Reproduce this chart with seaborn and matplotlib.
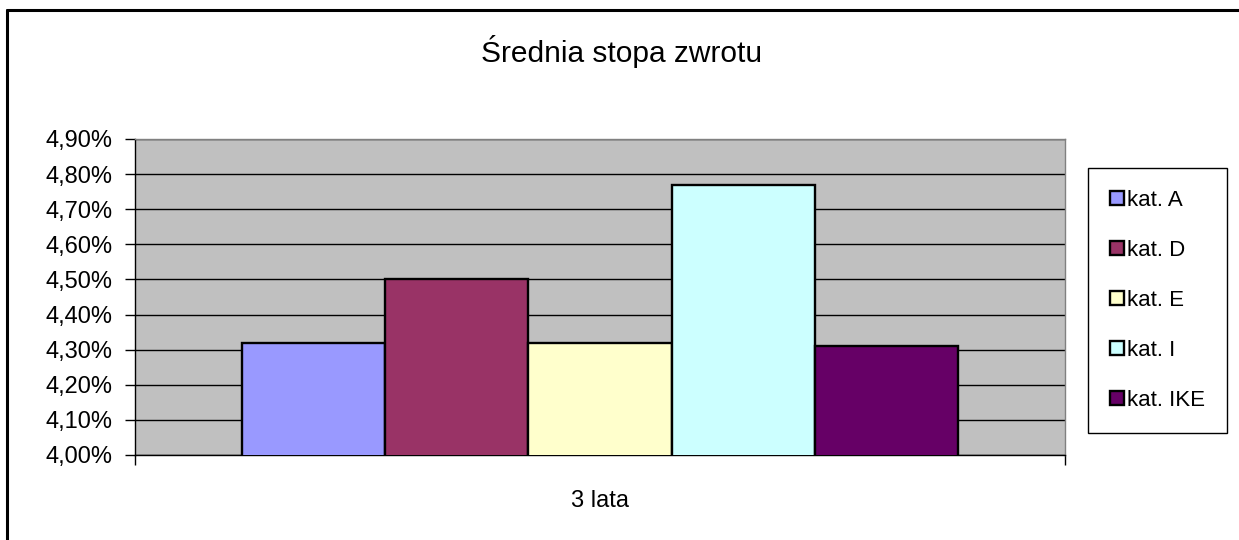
import pandas as pd
import numpy as np
import matplotlib
matplotlib.use("Agg")
import matplotlib.pyplot as plt
import matplotlib.ticker as mticker
from matplotlib.lines import Line2D
import seaborn as sns

# Chart data
period = ["3 lata"]
categories = ["kat. A", "kat. D", "kat. E", "kat. I", "kat. IKE"]
returns = [4.32, 4.50, 4.32, 4.77, 4.31]  # in percent
colors = ["#9999FF", "#993366", "#FFFFCC", "#CCFFFF", "#660066"]

df = pd.DataFrame({
    "okres": period * len(categories),
    "kategoria": categories,
    "stopa": returns,
})

sns.set_style("white")
plt.rcParams["font.family"] = ["Liberation Sans", "DejaVu Sans"]
plt.rcParams["text.color"] = "black"
plt.rcParams["xtick.color"] = "black"
plt.rcParams["ytick.color"] = "black"

fig = plt.figure(figsize=(12.39, 5.40), dpi=100)
ax = fig.add_axes([135 / 1239, 85 / 540, 930 / 1239, 316 / 540])
ax.set_facecolor("#C0C0C0")

sns.barplot(data=df, x="okres", y="stopa", hue="kategoria", palette=colors,
            width=0.77, gap=0, edgecolor="black", linewidth=1.7,
            saturation=1, ax=ax, zorder=3)

ax.set_ylim(4.0, 4.9)
ax.set_xlim(-0.5, 0.5)
ax.yaxis.set_major_locator(mticker.MultipleLocator(0.1))
ax.yaxis.set_major_formatter(mticker.FuncFormatter(
    lambda v, p: f"{v:.2f}%".replace(".", ",")))
ax.yaxis.grid(True, color="black", linewidth=1.0, zorder=0)
ax.set_axisbelow(True)

ax.set_xticks([-0.5, 0.5])
ax.set_xticklabels(["", ""])
ax.set_xticks([0], minor=True)
ax.set_xticklabels(period, minor=True)
ax.tick_params(axis="x", which="major", length=7, width=1, color="black",
               direction="out", bottom=True)
ax.tick_params(axis="x", which="minor", length=0, pad=25, labelsize=17)
ax.tick_params(axis="y", length=7, width=1, color="black", direction="out",
               left=True, labelsize=17, pad=9)
ax.set_xlabel("")
ax.set_ylabel("")

for side in ["left", "bottom"]:
    ax.spines[side].set_color("black")
    ax.spines[side].set_linewidth(1.0)
for side in ["top", "right"]:
    ax.spines[side].set_color("#808080")
    ax.spines[side].set_linewidth(1.0)

handles, labels = ax.get_legend_handles_labels()
ax.legend(handles, labels, loc="upper left",
          bbox_to_anchor=(1088 / 1239, 1 - 168 / 540),
          bbox_transform=fig.transFigure, borderaxespad=0,
          frameon=True, fancybox=False, edgecolor="black", framealpha=1,
          fontsize=16, handlelength=0.6, handleheight=0.6,
          handletextpad=0.15, labelspacing=1.3, borderpad=1.0)
ax.get_legend().get_frame().set_linewidth(1.0)

fig.text(622 / 1239, 1 - 52 / 540, "Średnia stopa zwrotu",
         ha="center", va="center", fontsize=21.5)

# chart area border (top and left edge)
fig.add_artist(Line2D([6.5 / 1239, 6.5 / 1239], [0, 1 - 9.5 / 540],
                      transform=fig.transFigure, color="black", linewidth=2.2))
fig.add_artist(Line2D([6.5 / 1239, 1], [1 - 9.5 / 540, 1 - 9.5 / 540],
                      transform=fig.transFigure, color="black", linewidth=2.2))

fig.savefig("out.png", dpi=100)
